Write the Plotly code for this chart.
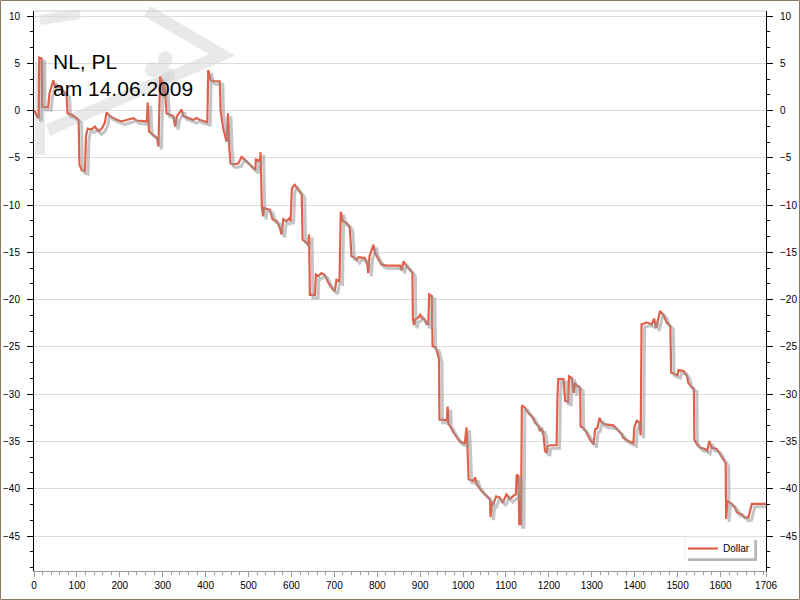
import plotly.graph_objects as go

# ---------------- data ----------------
x_vals = [0, 2, 8, 11, 12, 18, 19, 33, 36, 39, 45, 49, 59, 68, 76, 78, 88, 99, 104, 106,
          111, 119, 121, 125, 134, 142, 150, 158, 165, 169, 177, 189, 204, 216, 231, 239, 263, 265, 268, 278,
          287, 290, 294, 298, 301, 304, 309, 317, 325, 329, 333, 344, 348, 360, 371, 379, 387, 399, 404, 406,
          412, 418, 433, 435, 441, 449, 452, 455, 458, 464, 476, 484, 492, 503, 511, 516, 517, 527, 528, 531,
          534, 536, 550, 556, 566, 573, 577, 581, 589, 595, 598, 601, 604, 608, 616, 624, 626, 636, 639, 641,
          643, 655, 657, 663, 670, 678, 686, 696, 701, 705, 712, 715, 720, 729, 736, 740, 748, 752, 756, 771,
          777, 779, 782, 787, 791, 795, 803, 810, 822, 853, 857, 861, 869, 876, 882, 883, 886, 888, 896, 900,
          905, 911, 915, 919, 921, 927, 929, 937, 940, 944, 945, 954, 962, 964, 966, 969, 977, 985, 993, 1004,
          1008, 1010, 1013, 1024, 1028, 1032, 1040, 1051, 1059, 1063, 1064, 1067, 1071, 1077, 1086, 1092, 1101, 1109, 1117, 1123,
          1125, 1129, 1131, 1135, 1137, 1144, 1152, 1160, 1168, 1176, 1179, 1183, 1187, 1191, 1195, 1197, 1203, 1218, 1220, 1222,
          1234, 1238, 1245, 1247, 1253, 1258, 1261, 1265, 1273, 1274, 1280, 1288, 1296, 1302, 1304, 1308, 1313, 1318, 1323, 1331,
          1350, 1358, 1370, 1373, 1385, 1397, 1399, 1405, 1411, 1414, 1416, 1424, 1428, 1440, 1445, 1450, 1455, 1459, 1467, 1475,
          1483, 1485, 1494, 1500, 1502, 1514, 1522, 1525, 1533, 1538, 1539, 1545, 1552, 1564, 1569, 1574, 1579, 1591, 1599, 1606,
          1612, 1613, 1616, 1626, 1634, 1638, 1649, 1657, 1665, 1673, 1706]

dollar = [0.0, -0.1, -0.7, -0.7, 5.6, 5.5, 0.4, 0.35, 1.8, 2.3, 3.2, 2.5, 2.5, 2.0, 1.7, -0.3, -0.45, -0.8, -1.0, -5.7,
          -6.3, -6.4, -2.75, -1.9, -2.0, -1.7, -2.2, -1.9, -1.3, -0.2, -0.6, -0.9, -1.15, -1.0, -0.8, -1.05, -1.15, 0.85, -2.2, -2.6,
          -2.9, -3.8, 3.6, 3.2, 1.5, 2.9, -0.3, -0.45, -0.6, -1.7, -0.6, 0.1, -0.6, -0.8, -1.0, -0.8, -1.0, -1.15, -1.3, 4.3,
          3.2, 3.1, 3.1, -0.1, -1.9, -3.3, -0.3, -3.8, -5.6, -5.7, -5.6, -4.9, -5.2, -5.7, -6.1, -6.3, -5.2, -5.3, -4.4, -10.1,
          -11.2, -10.3, -10.5, -11.5, -11.7, -12.4, -13.1, -11.5, -11.7, -11.4, -11.7, -8.3, -8.0, -7.85, -8.4, -8.9, -13.65, -14.0, -14.3, -13.1,
          -19.5, -19.5, -17.35, -17.5, -17.2, -17.4, -18.2, -18.9, -19.1, -17.9, -18.05, -10.7, -11.7, -11.9, -12.4, -15.4, -15.6, -15.8, -15.5, -15.6,
          -16.3, -17.2, -15.4, -14.7, -14.2, -15.1, -15.8, -16.3, -16.4, -16.4, -16.9, -15.95, -16.5, -16.8, -17.2, -22.1, -22.7, -22.1, -21.9, -21.6,
          -22.0, -22.1, -22.6, -22.6, -19.45, -19.6, -24.9, -25.1, -25.6, -26.3, -32.7, -32.7, -32.8, -31.3, -33.2, -33.3, -34.0, -34.5, -35.05, -35.2,
          -33.5, -35.3, -39.0, -39.2, -38.8, -39.5, -40.05, -40.6, -40.9, -41.1, -43.0, -41.5, -41.6, -40.8, -40.95, -41.5, -40.6, -41.1, -40.75, -40.6,
          -38.5, -38.65, -43.75, -43.75, -31.2, -31.4, -32.0, -32.3, -33.0, -33.4, -33.9, -33.6, -34.1, -36.0, -36.2, -35.5, -35.4, -35.4, -30.2, -28.4,
          -28.4, -30.7, -30.8, -28.1, -28.25, -29.85, -28.8, -29.1, -29.3, -33.4, -33.55, -34.1, -34.8, -35.2, -35.3, -33.7, -33.6, -32.5, -33.0, -33.2,
          -33.3, -33.65, -34.25, -34.6, -34.95, -35.2, -33.5, -32.8, -33.0, -34.35, -22.6, -22.5, -22.4, -22.6, -22.0, -23.0, -21.9, -21.2, -21.6, -22.45,
          -22.8, -27.7, -27.9, -28.0, -27.45, -27.55, -28.1, -28.8, -29.3, -29.4, -34.8, -35.3, -35.65, -35.8, -36.0, -34.95, -35.65, -35.8, -36.35, -36.9,
          -37.3, -43.2, -41.3, -41.6, -42.0, -42.5, -42.7, -43.05, -43.05, -41.6, -41.6]

y_ticks = [-45, -40, -35, -30, -25, -20, -15, -10, -5, 0, 5, 10]
x_ticks = [0, 100, 200, 300, 400, 500, 600, 700, 800, 900, 1000, 1100, 1200, 1300, 1400, 1500, 1600, 1706]
x_tick_text = [str(v) for v in x_ticks]
series_name = "Dollar"
title_text = "NL, PL<br>am 14.06.2009"

# ---------------- layout geometry (pixels) ----------------
W, H = 800, 600
L, R, T, B = 34, 766, 11, 571
x_range = [0, 1706]
y_range = [-48.7, 10.53]

def fx(p):
    return (p - L) / (R - L)

def fy(p):
    return (B - p) / (B - T)

# shadow offset derived from the axis scale (3 px right, 3 px down)
ux = (x_range[1] - x_range[0]) / (R - L)
uy = (y_range[1] - y_range[0]) / (B - T)
shadow_x = [v + 3 * ux for v in x_vals]
shadow_y = [v - 3 * uy for v in dollar]

fig = go.Figure()
fig.add_trace(go.Scatter(x=shadow_x, y=shadow_y, mode="lines", yaxis="y2",
                         line=dict(color="rgba(150,150,150,0.55)", width=3),
                         hoverinfo="skip", showlegend=False))
fig.add_trace(go.Scatter(x=x_vals, y=dollar, mode="lines", name=series_name,
                         line=dict(color="#e0604a", width=2.2)))

tick_font = dict(family="Liberation Sans, Arial, sans-serif", size=10, color="#000000")

def yaxis_style(**extra):
    d = dict(range=y_range, tickmode="array", tickvals=y_ticks, zeroline=False, automargin=False,
             showline=True, linecolor="#000000", linewidth=1,
             ticks="outside", ticklen=6, tickcolor="#000000", tickfont=tick_font,
             ticklabelstandoff=5,
             minor=dict(tickmode="linear", tick0=0, dtick=5 / 3, ticks="outside", ticklen=3,
                        tickcolor="#000000", showgrid=False))
    d.update(extra)
    return d

# legend box geometry (pixels)
LG_L, LG_T, LG_R, LG_B = 685, 537, 754, 558

fig.update_layout(
    width=W, height=H,
    margin=dict(l=L, r=W - R, t=T, b=H - B, pad=0, autoexpand=False),
    paper_bgcolor="white", plot_bgcolor="white",
    showlegend=True,
    legend=dict(x=fx(LG_L - 2), y=fy(LG_T - 3), xanchor="left", yanchor="top",
                bgcolor="rgba(0,0,0,0)", borderwidth=0, itemwidth=30,
                font=dict(family="Liberation Sans, Arial, sans-serif", size=10, color="#000")),
    xaxis=dict(range=x_range, tickmode="array", tickvals=x_ticks, ticktext=x_tick_text,
               showgrid=False, zeroline=False, showline=True, linecolor="#9a9a9a", linewidth=1,
               automargin=False, ticks="outside", ticklen=5, tickcolor="#9a9a9a", tickfont=tick_font,
               minor=dict(tickmode="linear", tick0=0, dtick=20, ticks="outside", ticklen=3,
                          tickcolor="#9a9a9a", showgrid=False)),
    yaxis=yaxis_style(showgrid=True, gridcolor="#dcdcdc", gridwidth=1),
    yaxis2=yaxis_style(overlaying="y", side="right", anchor="x", showgrid=False),
)

shapes = []
# watermark (playing-card outline), drawn beneath the data
wm = "rgba(215,215,215,0.55)"
shapes.append(dict(type="path", xref="paper", yref="paper", layer="below",
                   path=f"M {fx(147)},{fy(11)} L {fx(222)},{fy(55)} L {fx(48)},{fy(130)}",
                   line=dict(color=wm, width=12)))
shapes.append(dict(type="line", xref="paper", yref="paper", layer="below",
                   x0=fx(40), y0=fy(62), x1=fx(40), y1=fy(155), line=dict(color=wm, width=10)))
shapes.append(dict(type="line", xref="paper", yref="paper", layer="below",
                   x0=fx(40), y0=fy(20), x1=fx(80), y1=fy(14), line=dict(color=wm, width=10)))
# light top border of the plot area
shapes.append(dict(type="line", xref="paper", yref="paper", x0=0, x1=1, y0=1, y1=1,
                   line=dict(color="#cfcfcf", width=1)))
# legend shadow and box
shapes.append(dict(type="rect", xref="paper", yref="paper",
                   x0=fx(LG_L + 3), x1=fx(LG_R + 3), y0=fy(LG_B + 3), y1=fy(LG_T + 3),
                   fillcolor="#b4b4b4", line=dict(width=0)))
shapes.append(dict(type="rect", xref="paper", yref="paper",
                   x0=fx(LG_L), x1=fx(LG_R), y0=fy(LG_B), y1=fy(LG_T),
                   fillcolor="white", line=dict(color="#eeeeee", width=1)))
# outer frame of the picture
shapes.append(dict(type="rect", xref="paper", yref="paper",
                   x0=fx(0.5), x1=fx(799.5), y0=fy(599.5), y1=fy(0.5),
                   line=dict(color="#8c7a68", width=1), fillcolor="rgba(0,0,0,0)"))
fig.update_layout(shapes=shapes)

fig.add_annotation(xref="paper", yref="paper", x=fx(130), y=fy(33), text="♣",
                   showarrow=False, textangle=20,
                   font=dict(family="DejaVu Sans", size=46, color="rgba(205,205,205,0.45)"))
fig.add_annotation(xref="paper", yref="paper", x=fx(52), y=fy(49), xanchor="left", yanchor="top",
                   align="left", text=title_text, showarrow=False, borderpad=0,
                   font=dict(family="Liberation Sans, Arial, sans-serif", size=21, color="#000000"))

fig.write_html("out.html", config={"displayModeBar": False},
               post_script="document.body.style.margin='0';")
